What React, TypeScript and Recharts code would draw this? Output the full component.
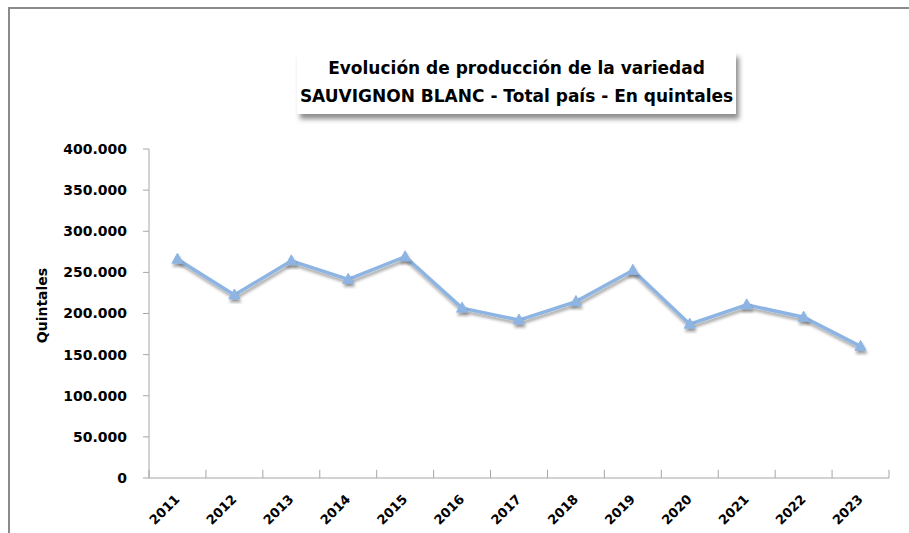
import React from "react";
import { LineChart, Line, XAxis, YAxis, ReferenceLine } from "recharts";

const years = ["2011", "2012", "2013", "2014", "2015", "2016", "2017", "2018", "2019", "2020", "2021", "2022", "2023"];
const quintales = [266000, 222500, 264000, 241500, 269000, 206500, 192000, 214500, 252500, 187000, 210500, 195500, 160000];
const yTicks = [0, 50000, 100000, 150000, 200000, 250000, 300000, 350000, 400000];

const data = years.map((year, i) => ({ year, value: quintales[i] }));

const FONT = "'DejaVu Sans', sans-serif";
const LINE = "#8db4e2";
const AXIS = "#a6a6a6";
// height of the between-category tick marks, in axis units
const TICK_UNITS = 10000;

const fmt = (v: number) => String(v).replace(/\B(?=(\d{3})+(?!\d))/g, ".");

function Triangle(props: any) {
  const { cx, cy, index } = props;
  if (cx == null || cy == null) return <g key={index} />;
  const pts = `${cx},${cy - 6} ${cx - 5.5},${cy + 4} ${cx + 5.5},${cy + 4}`;
  return <polygon key={index} points={pts} fill={LINE} stroke={LINE} strokeWidth={1} filter="url(#shadow)" />;
}

function YearTick(props: any) {
  const { x, y, payload } = props;
  return (
    <text
      x={x + 3}
      y={y + 16}
      transform={`rotate(-45, ${x + 3}, ${y + 16})`}
      textAnchor="end"
      fontFamily={FONT}
      fontWeight="bold"
      fontSize={13}
      fill="#000"
    >
      {payload.value}
    </text>
  );
}

export default function App() {
  return (
    <div style={{ position: "relative", width: 909, height: 533, overflow: "hidden", background: "#fff" }}>
      <style>{`body{margin:0;overflow:hidden}`}</style>
      <div
        style={{
          position: "absolute",
          left: 8,
          top: 7,
          width: 940,
          height: 560,
          borderLeft: "2px solid #8a8a8a",
          borderTop: "2px solid #8a8a8a",
        }}
      />
      <div style={{ position: "absolute", left: 0, top: 0 }}>
        <LineChart width={909} height={533} data={data} margin={{ top: 149, right: 20, left: 0, bottom: 5 }}>
          <defs>
            <filter id="shadow" x="-50%" y="-50%" width="200%" height="200%">
              <feDropShadow dx="1" dy="3" stdDeviation="1.5" floodColor="#000" floodOpacity="0.35" />
            </filter>
          </defs>
          <XAxis
            dataKey="year"
            scale="band"
            height={50}
            tickLine={false}
            axisLine={{ stroke: AXIS, strokeWidth: 1 }}
            tickSize={6}
            tickMargin={0}
            tick={<YearTick />}
            interval={0}
          />
          <YAxis
            width={149}
            domain={[0, 400000]}
            ticks={yTicks}
            tickFormatter={fmt}
            axisLine={{ stroke: AXIS, strokeWidth: 1 }}
            tickLine={{ stroke: AXIS }}
            tickSize={6}
            tickMargin={16}
            tick={{ fontFamily: FONT, fontWeight: "bold", fontSize: 14, fill: "#000" }}
            label={({ viewBox }: any) => {
              const lx = 47;
              const ly = viewBox.y + viewBox.height / 2 - 8;
              return (
                <text
                  x={lx}
                  y={ly}
                  transform={`rotate(-90, ${lx}, ${ly})`}
                  textAnchor="middle"
                  fontFamily={FONT}
                  fontWeight="bold"
                  fontSize={14}
                  fill="#000"
                >
                  Quintales
                </text>
              );
            }}
          />
          {years.map((y) => (
            <ReferenceLine
              key={y}
              segment={[{ x: y, y: 0 }, { x: y, y: TICK_UNITS }]}
              position="start"
              stroke={AXIS}
            />
          ))}
          <ReferenceLine
            segment={[{ x: years[years.length - 1], y: 0 }, { x: years[years.length - 1], y: TICK_UNITS }]}
            position="end"
            stroke={AXIS}
          />
          <Line
            dataKey="value"
            stroke={LINE}
            strokeWidth={3.5}
            dot={<Triangle />}
            activeDot={false}
            filter="url(#shadow)"
            isAnimationActive={false}
          />
        </LineChart>
      </div>
      <div
        style={{
          position: "absolute",
          left: 297,
          top: 52,
          width: 439,
          height: 62,
          boxSizing: "border-box",
          paddingTop: 2,
          background: "#fff",
          boxShadow: "3px 5px 5px rgba(0,0,0,0.45)",
          fontFamily: FONT,
          fontWeight: "bold",
          fontSize: 17,
          lineHeight: "28px",
          textAlign: "center",
          color: "#000",
          whiteSpace: "nowrap",
        }}
      >
        <div>Evolución de producción de la variedad</div>
        <div>SAUVIGNON BLANC - Total país - En quintales</div>
      </div>
    </div>
  );
}
